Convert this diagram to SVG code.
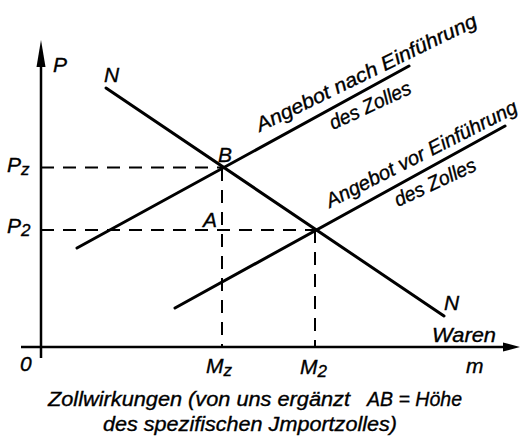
<svg xmlns="http://www.w3.org/2000/svg" width="521" height="436" viewBox="0 0 521 436">
<style>
text{font-family:"Liberation Sans",Arial,sans-serif;font-style:italic;fill:#000;stroke:#000;stroke-width:0.35}
.lbl{font-size:21px}
.sub{font-size:17px}
.rot{font-size:20px}
.cap{font-size:20px}
.solid{stroke:#000;stroke-width:3;fill:none;stroke-linecap:round}
.axis{stroke:#000;stroke-width:2.5;fill:none}
.dash{stroke:#000;stroke-width:2;fill:none;stroke-dasharray:13 9}
</style>
<rect width="521" height="436" fill="#fff"/>
<g id="axes">
<line class="axis" x1="41" y1="358" x2="41" y2="60"/>
<polygon points="41,40 36.5,67 45.5,67" fill="#000"/>
<line class="axis" x1="21" y1="347" x2="506" y2="347"/>
<polygon points="520,347 503,342.5 503,351.5" fill="#000"/>
</g>
<g id="connectors">
<line class="dash" x1="41" y1="167.5" x2="222" y2="167.5"/>
<line class="dash" x1="41" y1="230" x2="315" y2="230"/>
<line class="dash" x1="222" y1="168" x2="222" y2="347"/>
<line class="dash" x1="315" y1="230" x2="315" y2="347"/>
</g>
<g id="demand">
<line class="solid" x1="106" y1="88" x2="444" y2="316"/>
<text class="lbl" x="104" y="82">N</text>
<text class="lbl" x="444" y="310">N</text>
</g>
<g id="supply-after">
<line class="solid" x1="77" y1="248" x2="409" y2="66"/>
<text class="rot" transform="translate(260,132) rotate(-26)" textLength="243" lengthAdjust="spacingAndGlyphs">Angebot nach Einführung</text>
<text class="rot" transform="translate(333,130) rotate(-25)" textLength="88" lengthAdjust="spacingAndGlyphs">des Zolles</text>
</g>
<g id="supply-before">
<line class="solid" x1="175" y1="308" x2="505" y2="126"/>
<text class="rot" transform="translate(330,208) rotate(-27)" textLength="212" lengthAdjust="spacingAndGlyphs">Angebot vor Einführung</text>
<text class="rot" transform="translate(398,207) rotate(-25)" textLength="88" lengthAdjust="spacingAndGlyphs">des Zolles</text>
</g>
<g id="point-B"><text class="lbl" x="218" y="162">B</text></g>
<g id="point-A"><text class="lbl" x="203" y="227">A</text></g>
<g id="labels">
<text class="lbl" x="53" y="72">P</text>
<text class="lbl" x="7" y="172">P<tspan class="sub" dy="3">z</tspan></text>
<text class="lbl" x="7" y="233">P<tspan class="sub" dy="3">2</tspan></text>
<text class="lbl" x="20" y="371">0</text>
<text class="lbl" x="206" y="373">M<tspan class="sub" dy="3">z</tspan></text>
<text class="lbl" x="300" y="374">M<tspan class="sub" dy="3">2</tspan></text>
<text class="lbl" x="466" y="373">m</text>
<text class="lbl" x="432" y="342" textLength="64" lengthAdjust="spacingAndGlyphs">Waren</text>
</g>
<g id="caption">
<text class="cap" x="48" y="406" textLength="302" lengthAdjust="spacingAndGlyphs">Zollwirkungen (von uns ergänzt</text>
<text class="cap" x="367" y="406" textLength="95" lengthAdjust="spacingAndGlyphs">AB = Höhe</text>
<text class="cap" x="103" y="431" textLength="294" lengthAdjust="spacingAndGlyphs">des spezifischen Jmportzolles)</text>
</g>
</svg>
